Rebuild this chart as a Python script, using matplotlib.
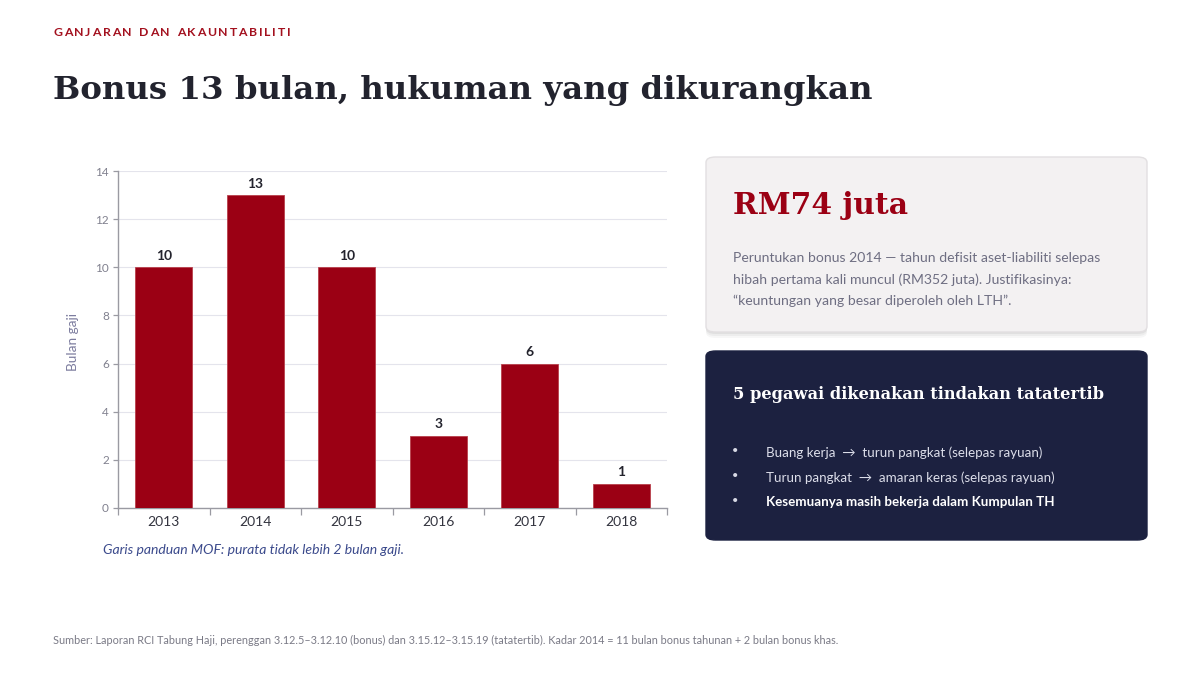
import matplotlib
matplotlib.use("Agg")
import matplotlib.pyplot as plt
from matplotlib.patches import FancyBboxPatch

# ---- data ----
years = ["2013", "2014", "2015", "2016", "2017", "2018"]
bonus_months = [10, 13, 10, 3, 6, 1]
y_ticks = [0, 2, 4, 6, 8, 10, 12, 14]

eyebrow = "GANJARAN DAN AKAUNTABILITI"
title = "Bonus 13 bulan, hukuman yang dikurangkan"
y_label = "Bulan gaji"
caption = "Garis panduan MOF: purata tidak lebih 2 bulan gaji."
card1_big = "RM74 juta"
card1_lines = ["Peruntukan bonus 2014 — tahun defisit aset-liabiliti selepas",
               "hibah pertama kali muncul (RM352 juta). Justifikasinya:",
               "“keuntungan yang besar diperoleh oleh LTH”."]
card2_head = "5 pegawai dikenakan tindakan tatatertib"
card2_bullets = ["Buang kerja  →  turun pangkat (selepas rayuan)",
                 "Turun pangkat  →  amaran keras (selepas rayuan)",
                 "Kesemuanya masih bekerja dalam Kumpulan TH"]
source = ("Sumber: Laporan RCI Tabung Haji, perenggan 3.12.5–3.12.10 (bonus) dan "
          "3.15.12–3.15.19 (tatatertib). Kadar 2014 = 11 bulan bonus tahunan + 2 bulan bonus khas.")

W, H = 1200, 675
BODY = ["Lato", "DejaVu Sans"]
SERIF = ["DejaVu Serif"]
RED = "#9b0014"
NAVY = "#1c2140"

plt.rcParams["font.family"] = BODY
fig = plt.figure(figsize=(12, 6.75), dpi=100)
fig.patch.set_facecolor("white")
renderer = fig.canvas.get_renderer()

def fx(x):
    return x / W

def fy(y):
    return 1 - y / H

def fitted_text(x, y, s, target_w, size, **kw):
    t = fig.text(fx(x), fy(y), s, fontsize=size, **kw)
    w = t.get_window_extent(renderer=renderer).width
    t.set_fontsize(size * target_w / w)
    return t

# ---- eyebrow with letter spacing ----
xpos = 53
for ch in eyebrow:
    t = fig.text(fx(xpos), fy(33), ch, fontsize=8.8, fontweight="bold",
                 color="#a3101e", va="center", ha="left", family=BODY)
    w = t.get_window_extent(renderer=renderer).width
    if ch == " ":
        w = 3.5
    xpos += w + 1.75

# ---- title ----
fitted_text(53, 90, title, 819, 27, fontweight="bold", color="#22232e",
            va="center", ha="left", family=SERIF)

# ---- chart ----
ax = fig.add_axes([fx(118), fy(508), fx(667) - fx(118), fy(171) - fy(508)])
xs = list(range(len(years)))
ax.bar(xs, bonus_months, width=0.62, color=RED, edgecolor="#b8404c",
       linewidth=0.6, zorder=3)
for x, v in zip(xs, bonus_months):
    ax.annotate(str(v), (x, v), xytext=(0, 4), textcoords="offset points",
                ha="center", va="bottom", fontsize=10, fontweight="bold",
                color="#23232d")
ax.set_xlim(-0.5, len(years) - 0.5)
ax.set_ylim(0, 14)
ax.set_yticks(y_ticks)
ax.set_yticklabels([str(t) for t in y_ticks], fontsize=8.5, color="#80808e")
ax.set_xticks([i - 0.5 for i in range(len(years) + 1)])
ax.set_xticklabels([""] * (len(years) + 1))
ax.set_xticks(xs, minor=True)
ax.set_xticklabels(years, minor=True, fontsize=10, color="#33343f")
ax.tick_params(axis="x", which="major", length=5, color="#9a9aa2", width=0.9)
ax.tick_params(axis="x", which="minor", length=0, pad=6)
ax.tick_params(axis="y", length=3.5, color="#9a9aa2", width=0.9, pad=3)
ax.grid(axis="y", color="#e4e4ec", linewidth=0.8, zorder=0)
ax.set_axisbelow(True)
for s in ["top", "right"]:
    ax.spines[s].set_visible(False)
for s in ["left", "bottom"]:
    ax.spines[s].set_color("#9a9aa2")
    ax.spines[s].set_linewidth(1.0)
ax.set_facecolor("white")

fig.text(fx(73), fy(342), y_label, rotation=90, fontsize=9.8, color="#7c7c9e",
         va="center", ha="center")
fig.text(fx(103), fy(550), caption, fontsize=10.1, style="italic",
         color="#3b4a8c", va="center", ha="left")

# ---- cards ----
def card(x0, y0, x1, y1, fc, ec, shadow=False):
    if shadow:
        for off, a in [(6, 0.03), (4, 0.04), (2, 0.05)]:
            sp = FancyBboxPatch((fx(x0), fy(y1 + off)), fx(x1 - x0), fy(y0) - fy(y1),
                                boxstyle="round,pad=0,rounding_size=0.008",
                                transform=fig.transFigure, fc="#000000", ec="none",
                                alpha=a, zorder=0)
            fig.add_artist(sp)
    p = FancyBboxPatch((fx(x0), fy(y1)), fx(x1 - x0), fy(y0) - fy(y1),
                       boxstyle="round,pad=0,rounding_size=0.008",
                       transform=fig.transFigure, fc=fc, ec=ec, lw=1.0, zorder=1)
    fig.add_artist(p)

card(706, 157, 1147, 332, "#f3f1f2", "#e2dfe1", shadow=True)
fitted_text(733, 205, card1_big, 175, 25, fontweight="bold", color=RED,
            va="center", ha="left", family=SERIF, zorder=2)
for i, line in enumerate(card1_lines):
    fig.text(fx(733), fy(258 + i * 21.5), line, fontsize=10.05, color="#6e6e82",
             va="center", ha="left", zorder=2)

card(706, 351, 1147, 540, NAVY, NAVY)
fitted_text(733, 395, card2_head, 372, 13, fontweight="bold", color="white",
            va="center", ha="left", family=SERIF, zorder=2)
for i, line in enumerate(card2_bullets):
    yy = 453 + i * 24.5
    fig.text(fx(735), fy(yy - 2), "•", fontsize=8, color="#d8dae6", va="center",
             ha="center", zorder=2)
    fig.text(fx(766), fy(yy), line, fontsize=9.65,
             color="#dcdeea" if i < 2 else "white",
             fontweight="bold" if i == 2 else "normal", va="center", ha="left", zorder=2)

fitted_text(53, 640, source, 780, 7.75, color="#7a7a86", va="center", ha="left")

fig.savefig("out.png", dpi=100, facecolor="white")
